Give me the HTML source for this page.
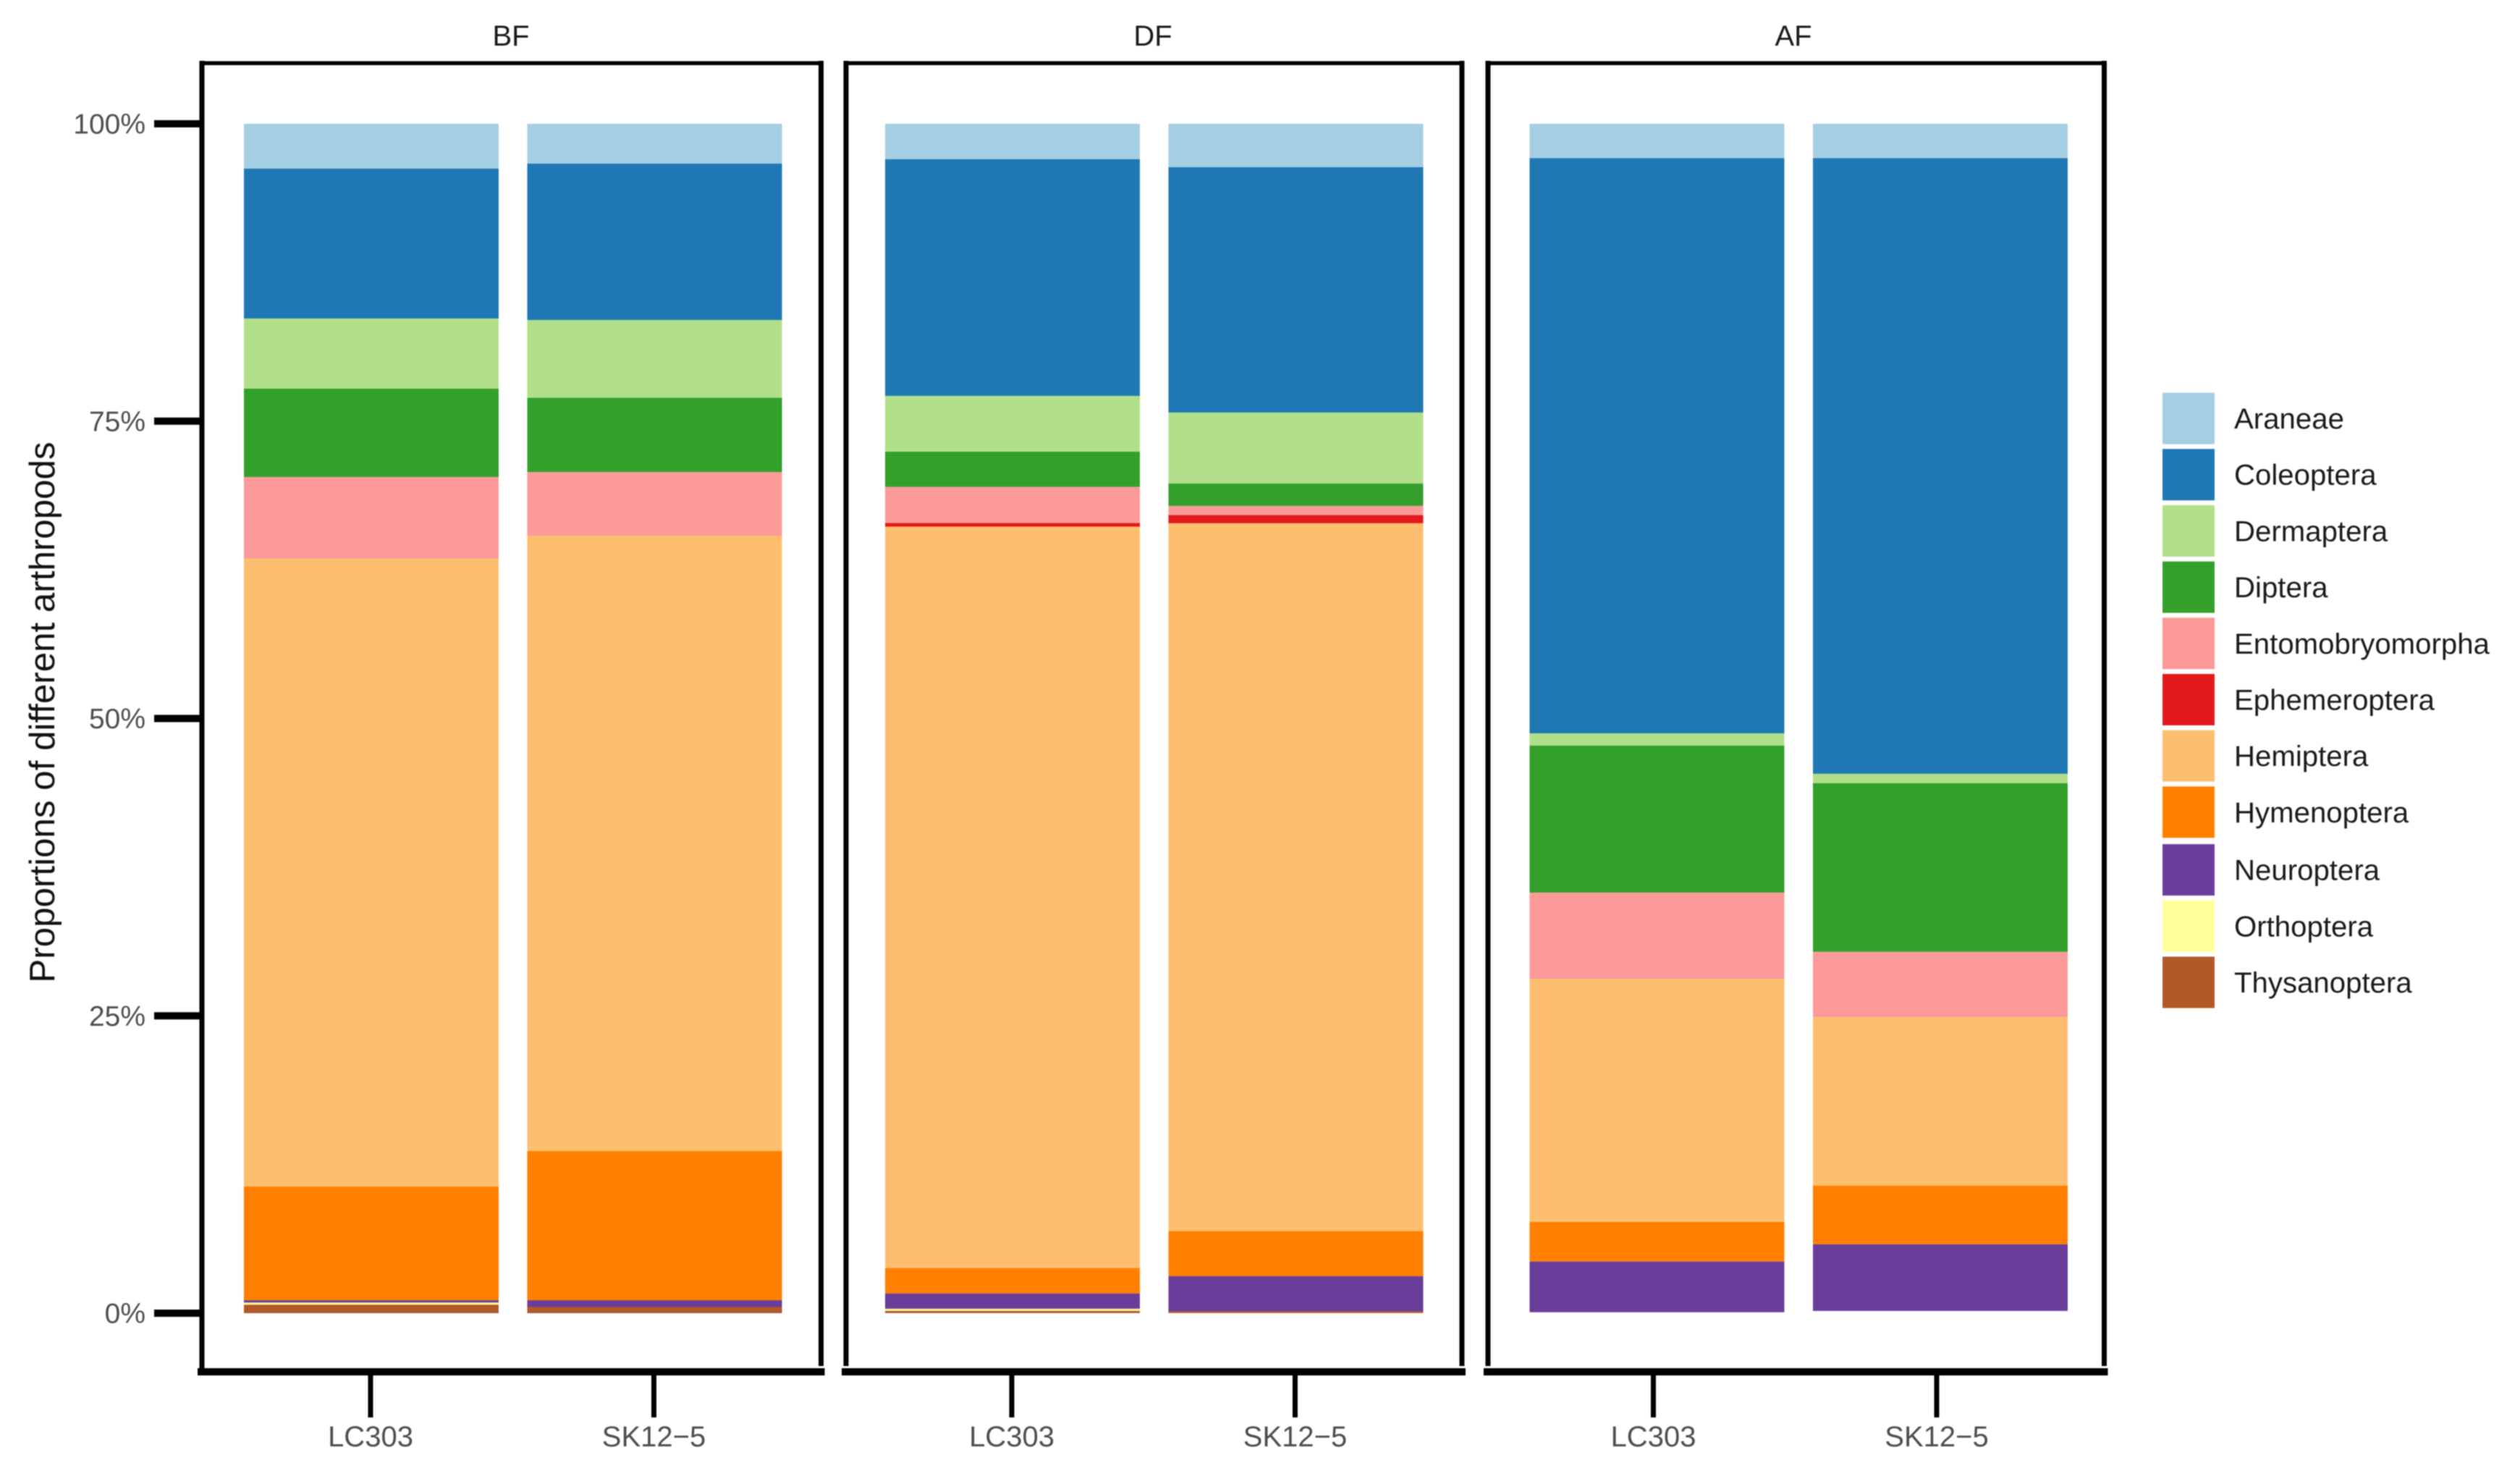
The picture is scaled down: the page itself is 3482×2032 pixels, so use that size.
<!DOCTYPE html>
<html lang="en">
<head>
<meta charset="utf-8">
<title>Proportions of different arthropods</title>
<style>
html,body{margin:0;padding:0;background:#fff;}
body{width:3482px;height:2032px;overflow:hidden;}
svg{display:block;filter:blur(0.7px);}
text{font-family:"Liberation Sans",Arial,sans-serif;}
</style>
</head>
<body>
<svg id="chart" xmlns="http://www.w3.org/2000/svg" width="3482" height="2032" viewBox="0 0 3482 2032">
  <rect x="0" y="0" width="3482" height="2032" fill="#ffffff"></rect>
  <text transform="translate(75 984) rotate(-90)" text-anchor="middle" font-size="49.3" fill="#111111">Proportions of different arthropods</text>
</svg>
<script>
// Chart data: percentages.
const panels = ['BF', 'DF', 'AF'];
const samples = ['LC303', 'SK12\u22125'];
const yTicks = [0, 25, 50, 75, 100];
const yTickLabels = ['0%', '25%', '50%', '75%', '100%'];
const species = ['Araneae', 'Coleoptera', 'Dermaptera', 'Diptera', 'Entomobryomorpha', 'Ephemeroptera', 'Hemiptera', 'Hymenoptera', 'Neuroptera', 'Orthoptera', 'Thysanoptera'];
const colors = ['#A6CEE3', '#1F78B4', '#B2DF8A', '#33A02C', '#FB9A99', '#E31A1C', '#FDBF6F', '#FF7F00', '#6A3D9A', '#FFFF99', '#B15928'];
// Each series holds: BF-LC303, BF-SK12-5, DF-LC303, DF-SK12-5, AF-LC303, AF-SK12-5
const araneae = [3.77, 3.35, 2.98, 3.65, 2.89, 2.89];
const coleoptera = [12.60, 13.15, 19.90, 20.63, 48.36, 51.76];
const dermaptera = [5.90, 6.54, 4.69, 5.96, 1.03, 0.79];
const diptera = [7.43, 6.24, 2.96, 1.89, 12.36, 14.18];
const entomobryomorpha = [6.85, 5.36, 3.04, 0.77, 7.24, 5.48];
const ephemeroptera = [0, 0, 0.30, 0.69, 0, 0];
const hemiptera = [52.80, 51.73, 62.33, 59.51, 20.45, 14.18];
const hymenoptera = [9.56, 12.54, 2.15, 3.79, 3.33, 4.93];
const neuroptera = [0.20, 0.57, 1.28, 2.96, 4.26, 5.60];
const orthoptera = [0.18, 0, 0.18, 0, 0, 0];
const thysanoptera = [0.71, 0.52, 0.18, 0.14, 0, 0];
const seriesValues = [araneae, coleoptera, dermaptera, diptera, entomobryomorpha, ephemeroptera, hemiptera, hymenoptera, neuroptera, orthoptera, thysanoptera];

const svg = document.getElementById('chart');
const NS = 'http://www.w3.org/2000/svg';

// Axis functions
function yScale(v) { return 1814 - v * 16.43; }
function panelBarCenter(p) { return p === 0 ? 513 : (p === 1 ? 1399 : 2289.5); }
function barCenter(p, s) { return panelBarCenter(p) + s * 391.5; }
function tickCenter(p, s) { return barCenter(p, s) - (p === 2 ? 5 : 1) ; }
function panelLeft(p) { return p === 0 ? 279 : (p === 1 ? 1169 : 2056); }
function panelRight(p) { return p === 0 ? 1134.5 : (p === 1 ? 2020 : 2907.5); }
function panelMiddle(p) { return p === 0 ? 706 : (p === 1 ? 1593 : 2478); }
function legendRow(i) { return 578 + 77.7 * i + (i >= 8 ? 2 : 0); }

function makeRect(x, y, w, h, fill) {
  const r = document.createElementNS(NS, 'rect');
  r.setAttribute('x', x);
  r.setAttribute('y', y);
  r.setAttribute('width', w);
  r.setAttribute('height', h);
  r.setAttribute('fill', fill);
  svg.appendChild(r);
  return r;
}
function makeText(x, y, str, size, fill, anchor) {
  const t = document.createElementNS(NS, 'text');
  t.setAttribute('x', x);
  t.setAttribute('y', y);
  t.setAttribute('font-size', size);
  t.setAttribute('fill', fill);
  t.setAttribute('text-anchor', anchor);
  t.textContent = str;
  svg.appendChild(t);
  return t;
}

// Stacked bars
panels.forEach(function (panel, p) {
  samples.forEach(function (sample, s) {
    const idx = p * samples.length + s;
    const cx = barCenter(p, s);
    let cum = 100;
    species.forEach(function (sp, k) {
      const v = seriesValues[k][idx];
      if (v <= 0) return;
      const top = yScale(cum);
      const bottom = yScale(cum - v);
      const seg = makeRect(cx - 176, top, 352, bottom - top, colors[k]);
      
      
      cum -= v;
    });
  });
});

// Panel frames, strip titles and x axes
panels.forEach(function (panel, p) {
  const l = panelLeft(p);
  const r = panelRight(p);
  const name = panel.toLowerCase();

  const title = makeText(panelMiddle(p), 63, panel, 40, '#1a1a1a', 'middle');
  
  

  const topLine = makeRect(l - 3.5, 84.5, r - l + 7, 5.5, '#000000');
  
  

  const leftLine = makeRect(l - 3.5, 84, 7, (p === 0 ? 1900 : 1887) - 84, '#000000');
  
  

  const rightLine = makeRect(r - 3.5, 84, 7, 1887 - 84, '#000000');
  
  

  const xAxis = makeRect(l - 6, 1890, r - l + 11, 10, '#000000');
  
  

  samples.forEach(function (sample, s) {
    const tx = tickCenter(p, s);
    const sname = sample.toLowerCase().replace('\u2212', '-');

    const tick = makeRect(tx - 3.5, 1898, 7, 60, '#000000');
    
    

    const label = makeText(tx, 1998, sample, 40, '#4d4d4d', 'middle');
    
    
  });
});

// Y axis ticks and labels
yTicks.forEach(function (v, i) {
  const y = yScale(v);

  const tick = makeRect(213, y - 5, 63, 10, '#000000');
  
  

  const label = makeText(201, y + 13.5, yTickLabels[i], 39, '#4d4d4d', 'end');
  
  
});

// Legend
species.forEach(function (sp, i) {
  const cy = legendRow(i);

  const swatch = makeRect(2988, cy - 35.5, 72, 71, colors[i]);
  
  

  const label = makeText(3087, cy + 14, sp, 40.2, '#1a1a1a', 'start');
  
  
});
</script>
</body>
</html>
